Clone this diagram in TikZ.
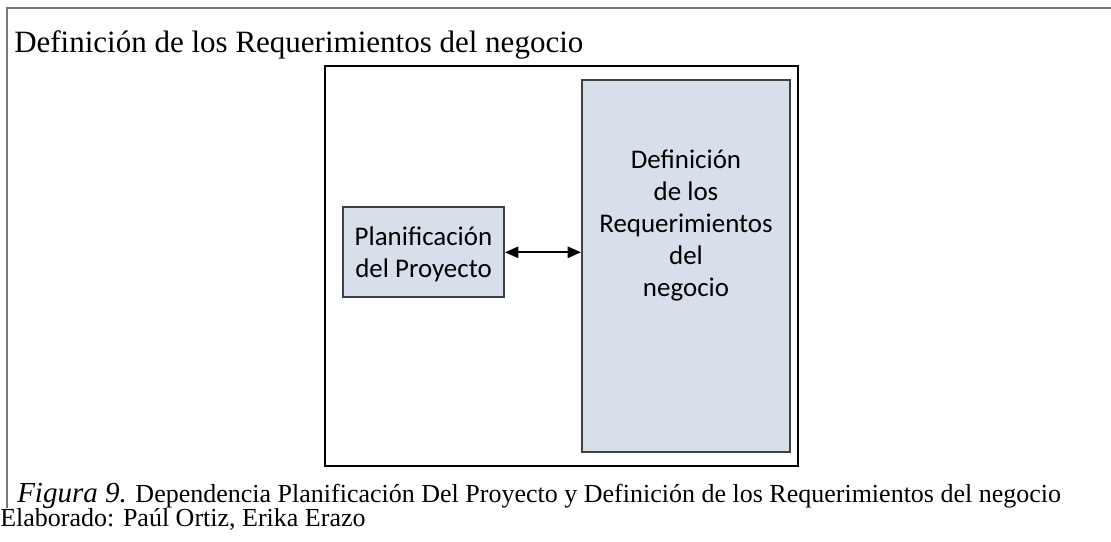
\documentclass[tikz,border=0pt]{standalone}
\usepackage{fontspec}
\setmainfont{Liberation Serif}
\newfontfamily\calibri{Carlito}
\usetikzlibrary{arrows.meta}
\definecolor{cajaazul}{RGB}{214,223,234}
\definecolor{bordecaja}{RGB}{64,64,64}
\definecolor{marcogris}{RGB}{120,120,120}
\tikzset{
	caja/.style={draw=bordecaja, line width=1.5pt, fill=cajaazul, inner sep=0pt},
	textocaja/.style={font=\calibri\fontsize{20.2}{24}\selectfont, align=center, inner sep=0pt},
	texto/.style={anchor=base west, inner sep=0pt},
	flecha/.style={line width=1.3pt, {Triangle[length=10pt,width=8.5pt]}-{Triangle[length=10pt,width=8.5pt]}}
}
\begin{document}
\begin{tikzpicture}[x=0.75pt,y=-0.75pt]
		\useasboundingbox (0,0) rectangle (1111,542);
		\draw[marcogris, line width=1.1pt] (7,508)--(7,8)--(1111,8);
		\node[texto, font=\fontsize{23.25}{28}\selectfont] (titulo) at (14,53) {Definición de los Requerimientos del negocio};
		\draw[line width=1.5pt] (325,66) rectangle (798,466);
		\node[caja, minimum width=120.75pt, minimum height=67.5pt] (plan) at (423.5,252.3) {};
		\node[textocaja] (plantxt) at ([yshift=-1.5pt]plan.center) {Planificación\\del Proyecto};
		\node[caja, minimum width=156pt, minimum height=279pt] (req) at (686,266) {};
		\node[textocaja] (reqtxt) at (686,226) {Definición\\de los\\Requerimientos\\del\\negocio};
		\draw[flecha] (plan.east)--(plan.east -| req.west);
		\node[texto, font=\fontsize{19.5}{24}\selectfont] (pie) at (17,502) {{\fontsize{21.75}{24}\selectfont\itshape Figura 9.} Dependencia Planificación Del Proyecto y Definición de los Requerimientos del negocio};
		\node[texto, font=\fontsize{19.5}{24}\selectfont] (autores) at (0,526) {Elaborado: Paúl Ortiz, Erika Erazo};
	\end{tikzpicture}
\end{document}
